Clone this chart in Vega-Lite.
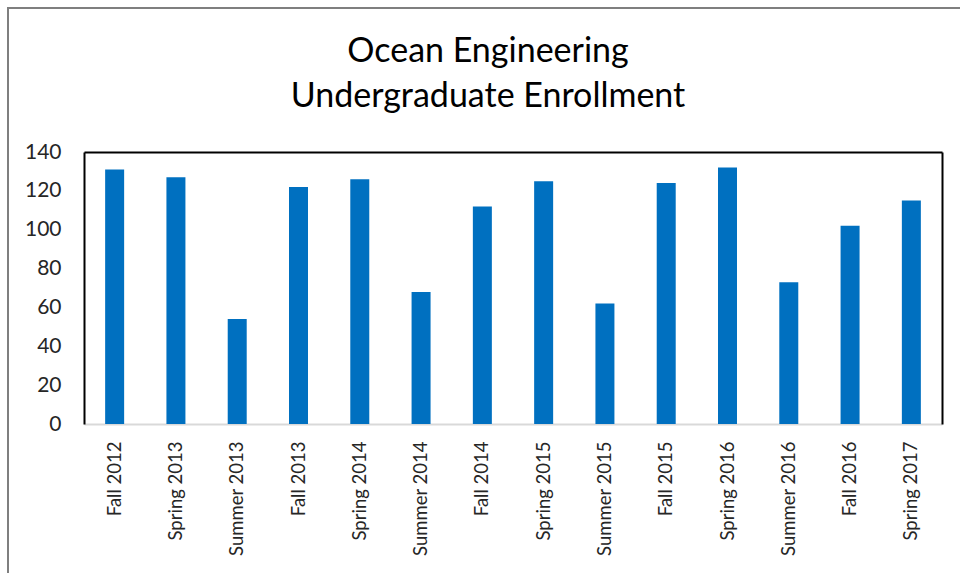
{
  "$schema": "https://vega.github.io/schema/vega-lite/v6.json",
  "autosize": "none",
  "width": 960,
  "height": 580,
  "padding": {"left": 8, "top": 8, "right": 0, "bottom": 0},
  "background": "white",
  "config": {
    "view": {"stroke": "#7f7f7f", "strokeWidth": 2},
    "font": "Lato"
  },
  "title": {
    "text": ["Ocean Engineering", "Undergraduate Enrollment"],
    "font": "Lato",
    "fontSize": 34,
    "fontWeight": "normal",
    "color": "#000000",
    "anchor": "middle",
    "baseline": "alphabetic",
    "lineHeight": 45,
    "offset": -133
  },
  "data": {
    "values": [
      {"term": "Fall 2012", "enrollment": 131},
      {"term": "Spring 2013", "enrollment": 127},
      {"term": "Summer 2013", "enrollment": 54},
      {"term": "Fall 2013", "enrollment": 122},
      {"term": "Spring 2014", "enrollment": 126},
      {"term": "Summer 2014", "enrollment": 68},
      {"term": "Fall 2014", "enrollment": 112},
      {"term": "Spring 2015", "enrollment": 125},
      {"term": "Summer 2015", "enrollment": 62},
      {"term": "Fall 2015", "enrollment": 124},
      {"term": "Spring 2016", "enrollment": 132},
      {"term": "Summer 2016", "enrollment": 73},
      {"term": "Fall 2016", "enrollment": 102},
      {"term": "Spring 2017", "enrollment": 115}
    ]
  },
  "layer": [
    {
      "mark": {"type": "bar", "color": "#0070C0"},
      "encoding": {
        "x": {
          "field": "term",
          "type": "nominal",
          "sort": null,
          "scale": {"range": [76, 934], "paddingInner": 0.69, "paddingOuter": 0.345},
          "axis": {
            "orient": "bottom",
            "title": null,
            "offset": -164,
            "domainColor": "#d9d9d9",
            "domainWidth": 2,
            "ticks": false,
            "tickSize": 0,
            "labelAngle": -90,
            "labelPadding": 17,
            "labelFont": "Lato",
            "labelFontSize": 18.5,
            "labelColor": "#262626"
          }
        },
        "y": {
          "field": "enrollment",
          "type": "quantitative",
          "scale": {"domain": [0, 140], "range": [416, 144], "nice": false},
          "axis": {
            "orient": "left",
            "title": null,
            "offset": -76,
            "values": [0, 20, 40, 60, 80, 100, 120, 140],
            "grid": false,
            "domainColor": "#000000",
            "domainWidth": 2,
            "ticks": false,
            "tickSize": 0,
            "labelPadding": 23,
            "labelFont": "Lato",
            "labelFontSize": 21,
            "labelColor": "#262626"
          }
        }
      }
    },
    {
      "mark": {"type": "bar", "opacity": 0},
      "encoding": {
        "x": {
          "field": "term",
          "type": "nominal",
          "sort": null,
          "axis": {
            "orient": "top",
            "title": null,
            "offset": -144,
            "domainColor": "#000000",
            "domainWidth": 2,
            "ticks": false,
            "labels": false
          }
        },
        "y": {
          "field": "enrollment",
          "type": "quantitative",
          "axis": {
            "orient": "right",
            "title": null,
            "offset": -26,
            "grid": false,
            "domainColor": "#000000",
            "domainWidth": 2,
            "ticks": false,
            "labels": false
          }
        }
      }
    }
  ],
  "resolve": {"axis": {"x": "independent", "y": "independent"}}
}
